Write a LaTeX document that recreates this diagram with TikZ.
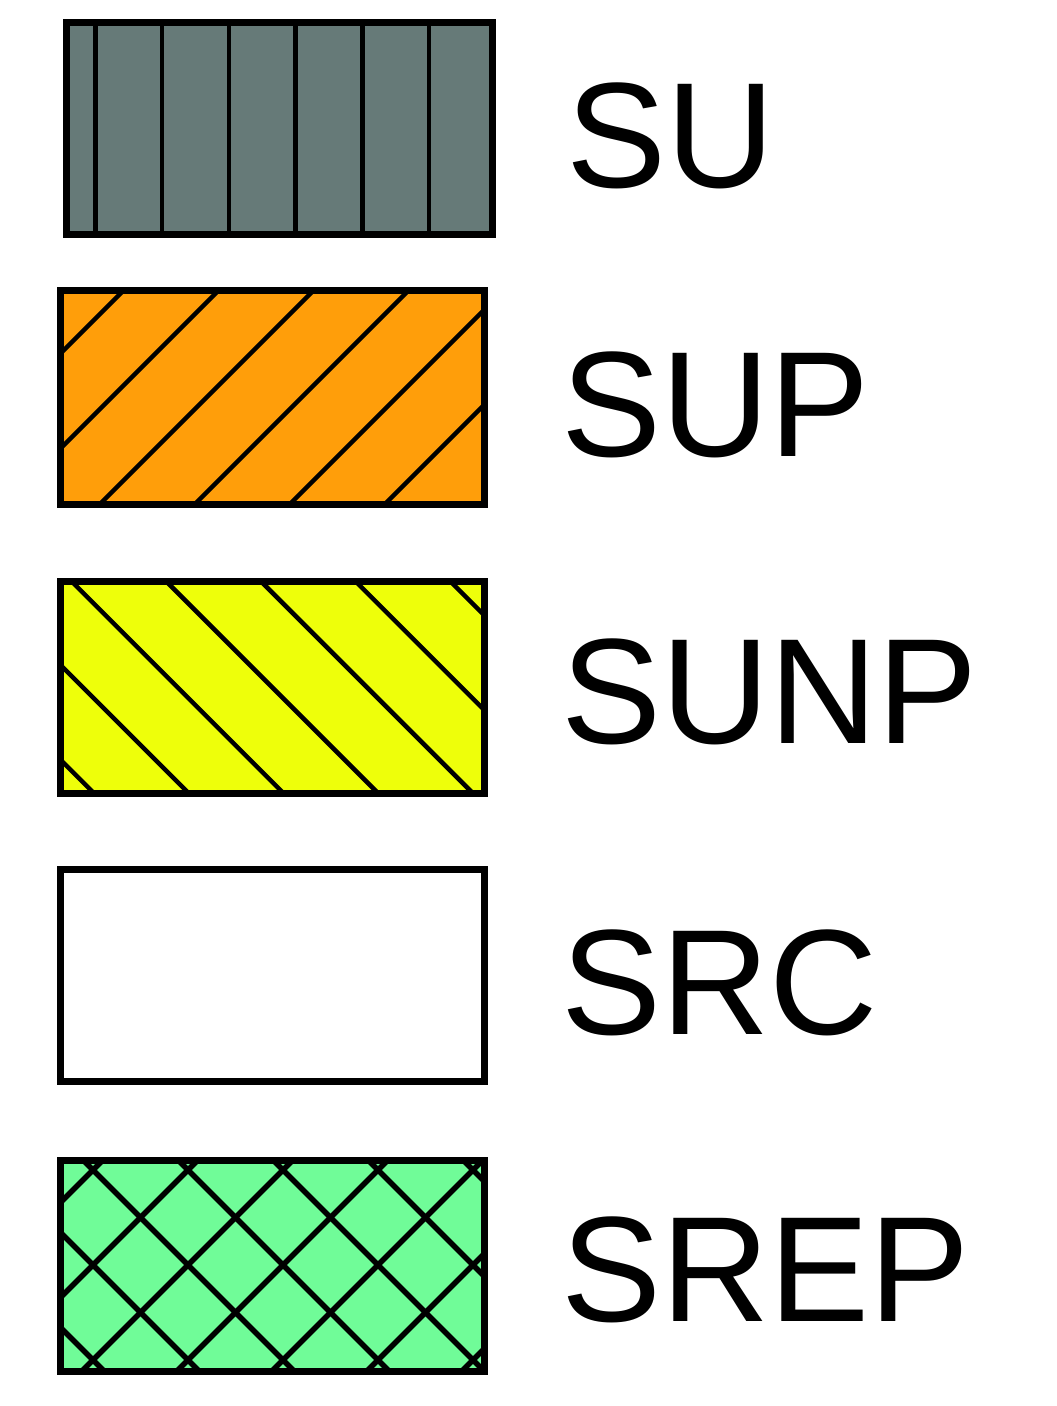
\documentclass[tikz,border=0pt]{standalone}
\usepackage{fontspec}
\setmainfont{Liberation Sans}
\definecolor{sugray}{RGB}{102,122,120}
\definecolor{suporange}{RGB}{255,158,10}
\definecolor{sunpyellow}{RGB}{238,255,10}
\definecolor{srepgreen}{RGB}{112,252,152}
\tikzset{
  legbox/.style={draw=black, line width=7pt, rectangle, inner sep=0pt, outer sep=0pt,
    minimum width=424pt, minimum height=212pt},
  hatchline/.style={draw=black, line width=4.5pt},
  label/.style={anchor=base west, inner sep=0pt, outer sep=0pt,
    font=\fontsize{150}{180}\selectfont}
}
\begin{document}
\begin{tikzpicture}[x=1pt, y=-1pt]
\useasboundingbox (0,0) rectangle (1057,1406);

% SU
\node[legbox, fill=sugray, minimum width=426pt] (su) at (279.5,128) {};
\begin{scope}
  \clip (su.south west) rectangle (su.north east);
  \foreach \k in {0,...,5} {\draw[hatchline] ({95.5+66.7*\k},10) -- ({95.5+66.7*\k},250);}
\end{scope}

% SUP
\node[legbox, fill=suporange, minimum height=214pt] (sup) at (272,397) {};
\begin{scope}
  \clip (sup.south west) rectangle (sup.north east);
  \foreach \k in {0,...,5} {\pgfmathsetmacro\c{414+95*\k}
    \draw[hatchline] (\c-280,280) -- (\c-515,515);}
\end{scope}

% SUNP
\node[legbox, fill=sunpyellow] (sunp) at (272,687) {};
\begin{scope}
  \clip (sunp.south west) rectangle (sunp.north east);
  \foreach \k in {0,...,6} {\pgfmathsetmacro\c{-131-94.7*\k}
    \draw[hatchline] (\c+570,570) -- (\c+805,805);}
\end{scope}

% SRC
\node[legbox, fill=white] (src) at (272,975) {};

% SREP
\node[legbox, fill=srepgreen, minimum height=211pt] (srep) at (272,1265.5) {};
\begin{scope}
  \clip (srep.south west) rectangle (srep.north east);
  \foreach \k in {0,...,6} {\pgfmathsetmacro\c{1263+95*\k}
    \draw[hatchline, line width=5.5pt] (\c-1150,1150) -- (\c-1385,1385);}
  \foreach \k in {0,...,6} {\pgfmathsetmacro\c{-1267+95*\k}
    \draw[hatchline, line width=5.5pt] (\c+1150,1150) -- (\c+1385,1385);}
\end{scope}

% labels
\node[label] (tsu) at (566,187) {SU};
\node[label] (tsup) at (561,456) {SUP};
\node[label] (tsunp) at (561,743) {SUNP};
\node[label] (tsrc) at (561,1034) {SRC};
\node[label] (tsrep) at (561,1321) {SREP};
\end{tikzpicture}
\end{document}
